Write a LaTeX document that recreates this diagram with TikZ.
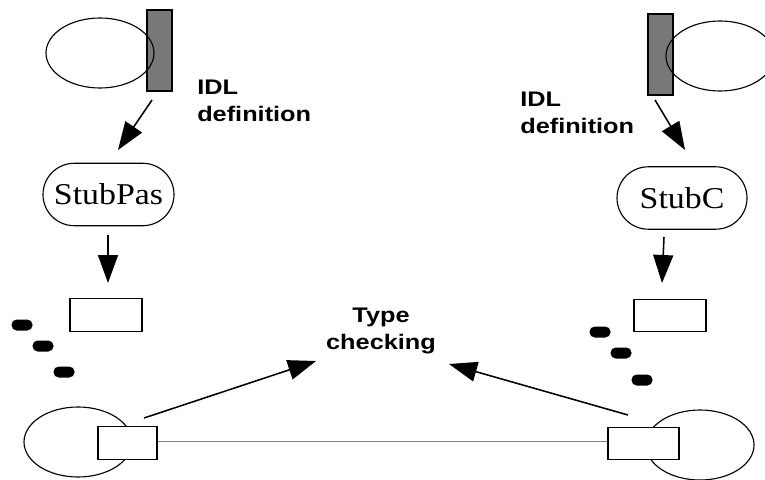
\documentclass[tikz,border=0pt]{standalone}
\usepackage{fontspec}
\usetikzlibrary{arrows.meta,shapes.geometric,shapes.misc}
\newfontfamily\labelfont[FakeStretch=1.2]{Liberation Sans}
\newfontfamily\stubfont[FakeStretch=1.12]{Liberation Serif}
\definecolor{bargray}{RGB}{120,120,120}

\begin{document}
\begin{tikzpicture}[
        x=0.25mm, y=-0.25mm,
        object/.style={ellipse, draw, line width=0.8pt, minimum width=27mm, minimum height=17.5mm, inner sep=0pt},
        idlbar/.style={rectangle, draw, line width=0.8pt, fill=bargray, minimum width=6.25mm, minimum height=20.25mm, inner sep=0pt},
        stub/.style={rounded rectangle, draw, line width=0.8pt, minimum height=15.6mm, inner sep=0pt, font=\stubfont\fontsize{21.5}{24}\selectfont},
        msgbox/.style={rectangle, draw, line width=0.8pt, fill=white, minimum width=18mm, minimum height=8.1mm, inner sep=0pt},
        token/.style={rectangle, rounded corners=1.3mm, fill=black, minimum width=5.25mm, minimum height=2.75mm, inner sep=0pt},
        note/.style={font=\labelfont\bfseries\fontsize{15}{19.2}\selectfont, inner sep=0pt},
        flow/.style={-{Triangle[length=7mm,width=5mm]}, line width=1.1pt}
    ]
        \useasboundingbox (0,0) rectangle (765,479);

        % client side: object with its IDL interface
        \node[idlbar] (barL) at (159.5,50.5) {};
        \node[object] (objL) at (100,53) {};
        \node[note, align=left, anchor=north west] (idlL) at (197,80) {IDL\\definition};
        \node[stub, minimum width=32.75mm] (stubL) at (108.5,194.5) {StubPas};
        \node[msgbox] (msgL) at (106,315) {};

        % server side
        \node[idlbar] (barR) at (660.5,54.5) {};
        \node[object] (objR) at (720,56) {};
        \node[note, align=left, anchor=north west] (idlR) at (520,92) {IDL\\definition};
        \node[stub, minimum width=32.5mm] (stubR) at (682,198) {StubC};
        \node[msgbox] (msgR) at (670,315.5) {};

        % marshalled values
        \node[token] (tokL1) at (22,325) {};
        \node[token] (tokL2) at (43,346) {};
        \node[token] (tokL3) at (64,372) {};
        \node[token] (tokR1) at (600,332) {};
        \node[token] (tokR2) at (621,353) {};
        \node[token] (tokR3) at (642,380) {};

        % running objects joined by the connection
        \node[object] (runL) at (78,442) {};
        \node[object] (runR) at (700,445) {};
        \draw[gray, line width=0.6pt] (127.5,441) -- (643.5,441);
        \node[msgbox, minimum width=14.75mm] (portL) at (127.5,443) {};
        \node[msgbox, minimum width=17.75mm] (portR) at (643.5,443.5) {};

        \node[note, align=center, anchor=north] (check) at (381,308) {Type\\checking};

        % arrow ends
        \coordinate (genL) at (152,100);
        \coordinate (genLtip) at (118,150);
        \coordinate (genR) at (655,100);
        \coordinate (genRtip) at (685,150);
        \coordinate (useL) at (108,235);
        \coordinate (useLtip) at (108,283);
        \coordinate (useR) at (664,237);
        \coordinate (useRtip) at (662,283);
        \coordinate (chkL) at (144,418);
        \coordinate (chkLtip) at (316,361);
        \coordinate (chkR) at (628,415);
        \coordinate (chkRtip) at (449,364);

        \draw[flow] (genL) -- (genLtip);
        \draw[flow] (genR) -- (genRtip);
        \draw[flow] (useL) -- (useLtip);
        \draw[flow] (useR) -- (useRtip);
        \draw[flow] (chkL) -- (chkLtip);
        \draw[flow] (chkR) -- (chkRtip);
\end{tikzpicture}
\end{document}
